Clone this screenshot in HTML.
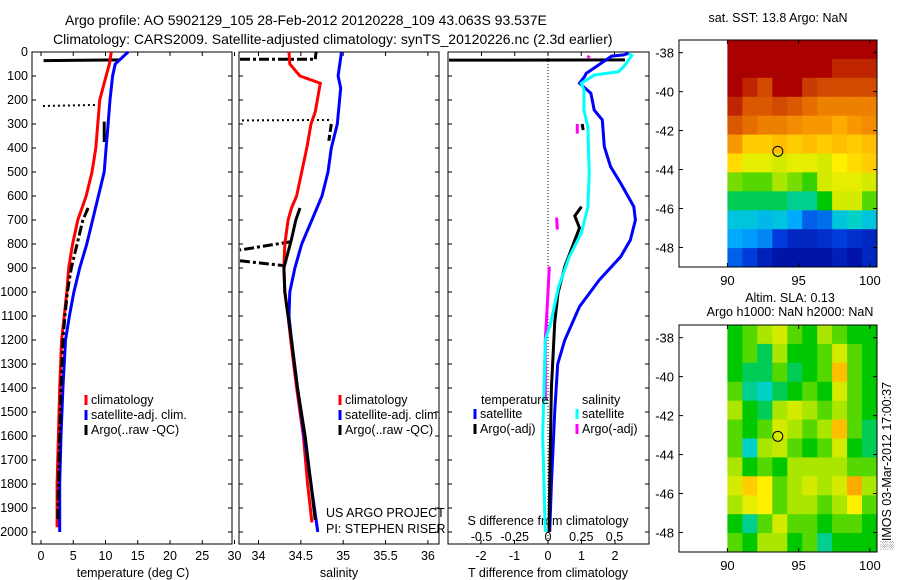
<!DOCTYPE html>
<html><head><meta charset="utf-8"><style>
html,body{margin:0;padding:0;background:#fff;}
svg{display:block;font-family:"Liberation Sans",sans-serif;}
text{font-size:12.5px;fill:#000;}
</style></head><body>
<svg id="s" width="900" height="580" viewBox="0 0 900 580" xmlns="http://www.w3.org/2000/svg">
<text x="65" y="25" style="font-size:14px">Argo profile: AO 5902129_105 28-Feb-2012 20120228_109 43.063S 93.537E</text>
<text x="53" y="44" style="font-size:14px">Climatology: CARS2009. Satellite-adjusted climatology: synTS_20120226.nc (2.3d earlier)</text>
<g id="g"></g>
</svg>
<script>
// ---------- data ----------
const depthTicks=[0,100,200,300,400,500,600,700,800,900,1000,1100,1200,1300,1400,1500,1600,1700,1800,1900,2000];
const tTicks=[0,5,10,15,20,25,30];
const sTicks=[34,34.5,35,35.5,36];
const dtTicks=[-2,-1,0,1,2];
const dsTicks=[-0.5,-0.25,0,0.25,0.5];
const dsTickLabels=["-0.5","-0.25","0","0.25","0.5"];

const tClimDepth=[0,50,100,200,300,400,500,600,700,800,900,1000,1100,1200,1400,1600,1800,1980];
const tClim=[10.9,10.6,10.1,9.1,8.8,8.5,7.9,7.0,5.7,4.9,4.3,4.0,3.6,3.2,2.9,2.7,2.5,2.5];
const tSatDepth=[0,50,100,200,300,400,500,600,700,800,900,1000,1100,1200,1400,1600,1800,2000];
const tSat=[13.5,11.5,11.1,10.7,10.4,10.1,9.8,8.9,8.0,7.1,6.0,5.1,4.4,3.8,3.4,3.1,2.9,2.9];
const tArgoDepth=[650,700,800,900,1000,1100,1200,1400,1600,1800,1950];
const tArgo=[7.3,6.5,5.6,4.7,4.1,3.7,3.4,3.1,2.9,2.7,2.6];

const sClimDepth=[0,50,100,130,250,300,400,500,600,650,700,800,900,1000,1100,1200,1400,1600,1800,1960];
const sClim=[34.36,34.37,34.49,34.73,34.67,34.62,34.57,34.51,34.45,34.39,34.35,34.31,34.30,34.31,34.35,34.38,34.45,34.53,34.58,34.63];
const sSatDepth=[0,100,150,300,400,500,600,700,800,900,1000,1100,1200,1400,1600,1800,2000];
const sSat=[34.98,34.94,34.97,34.93,34.86,34.82,34.75,34.63,34.51,34.43,34.37,34.36,34.39,34.46,34.54,34.62,34.70];
const sArgoDepth=[650,700,780,900,1000,1100,1200,1400,1600,1800,1950];
const sArgo=[34.49,34.44,34.39,34.30,34.31,34.35,34.39,34.46,34.55,34.62,34.67];

const dtSatDepth=[5,12,17,52,89,103,130,172,242,283,394,478,547,644,700,783,853,950,1061,1200,1300,1500,1800,2000];
const dtSat=[2.41,2.26,1.9,1.53,1.14,1.09,0.94,1.28,1.38,1.62,1.68,1.87,2.17,2.56,2.61,2.46,2.17,1.53,0.94,0.5,0.29,0.2,0.1,0.05];
const dtArgoDepth=[644,683,733,894,1004,1129,1400,1800,2000];
const dtArgo=[1.0,0.8,0.94,0.5,0.3,0.2,0.1,0.05,0.03];
const dsSatDepth=[5,15,61,82,96,130,158,242,313,505,644,755,853,978,1129,1200,1400,1600,1800,2000];
const dsSat=[0.61,0.63,0.57,0.53,0.35,0.25,0.27,0.27,0.30,0.31,0.30,0.25,0.16,0.08,0.02,-0.02,-0.03,-0.04,-0.03,-0.02];
const dsArgoDepth=[894,1000,1100,1200,1300,1450];
const dsArgo=[0.01,0.0,-0.01,-0.02,-0.02,-0.02];

const mapLatTicks=[-38,-40,-42,-44,-46,-48];
const mapLonTicks=[90,95,100];
const sstGrid=[
[1,1,1,1,1,1,1,1,1,1],
[1,1,1,1,1,1,1,.95,.95,.95],
[1,.95,.9,1,1,.92,.9,.9,.9,.9],
[.95,.88,.88,.9,.88,.85,.82,.82,.82,.82],
[.88,.85,.82,.82,.8,.78,.78,.75,.78,.8],
[.78,.7,.7,.72,.7,.72,.7,.72,.7,.72],
[.68,.62,.62,.6,.62,.62,.6,.65,.68,.7],
[.52,.5,.5,.55,.52,.48,.6,.62,.62,.6],
[.42,.42,.42,.42,.4,.4,.45,.6,.6,.5],
[.35,.35,.33,.35,.3,.2,.22,.35,.38,.35],
[.3,.28,.25,.15,.1,.1,.12,.15,.12,.1],
[.2,.15,.08,.05,.05,.05,.05,.08,.05,.1]];
const slaGrid=[
[.45,.5,.55,.6,.5,.45,.55,.5,.45,.45],
[.45,.5,.42,.55,.45,.45,.5,.6,.5,.45],
[.45,.42,.42,.5,.42,.45,.5,.72,.5,.45],
[.5,.4,.38,.42,.45,.5,.45,.6,.5,.45],
[.55,.45,.42,.55,.6,.55,.5,.55,.5,.45],
[.5,.45,.5,.6,.55,.5,.55,.72,.5,.42],
[.5,.38,.55,.58,.5,.45,.5,.6,.45,.42],
[.55,.45,.5,.45,.55,.55,.55,.55,.5,.5],
[.6,.7,.65,.5,.55,.6,.55,.6,.75,.55],
[.55,.62,.65,.5,.55,.55,.5,.55,.65,.5],
[.45,.4,.5,.6,.5,.5,.45,.5,.5,.45],
[.5,.45,.55,.55,.45,.5,.4,.45,.45,.45]];
const argoLon=93.537, argoLat=-43.063;

// ---------- helpers ----------
const NS="http://www.w3.org/2000/svg", G=document.getElementById('g');
function mk(tag,attrs,parent){const e=document.createElementNS(NS,tag);for(const k in attrs)e.setAttribute(k,attrs[k]);(parent||G).appendChild(e);return e;}
function tx(x,y,str,anchor,extra){const e=mk('text',Object.assign({x:x,y:y,'text-anchor':anchor||'start'},extra||{}));e.textContent=str;return e;}
const yD=d=>52+0.24*d;
const P1={x0:32,x1:232,fx:v=>41+6.45*v};
const P2={x0:239,x1:439,fx:v=>258.5+84.7*(v-34)};
const P3={x0:448,x1:649,fx:v=>548+33.5*v,fs:v=>548+133*v};
const TOP=52,BOT=544;

function line(xs,ds,fx,color,w,dash,name){
  const pts=xs.map((v,i)=>fx(v).toFixed(1)+','+yD(ds[i]).toFixed(1)).join(' ');
  const e=mk('polyline',{points:pts,fill:'none',stroke:color,'stroke-width':w,'stroke-dasharray':dash||'none'});
  
  
  return e;
}
function seg(x1,y1,x2,y2,color,w,dash,name){
  const e=mk('line',{x1:x1,y1:y1,x2:x2,y2:y2,stroke:color,'stroke-width':w,'stroke-dasharray':dash||'none'});
  
  
  return e;
}
function box(P,name){
  const r=mk('rect',{x:P.x0,y:TOP,width:P.x1-P.x0,height:BOT-TOP,fill:'none',stroke:'#000','stroke-width':1});
  
  
  depthTicks.forEach(d=>{seg(P.x0,yD(d),P.x0+4,yD(d),'#000',1,null,'y-tick');seg(P.x1-4,yD(d),P.x1,yD(d),'#000',1,null,'y-tick');});
}
// ---------- panel 1 ----------
box(P1,'temperature-panel');
depthTicks.forEach(d=>{const t=tx(28,yD(d)+4,String(d),'end');});
tTicks.forEach(v=>{const x=P1.fx(v);seg(x,TOP,x,TOP+4,'#000',1,null,'x-tick');seg(x,BOT-4,x,BOT,'#000',1,null,'x-tick');const t=tx(x,560,String(v),'middle');});
{const t=tx(133,577,'temperature (deg C)','middle');}
seg(P1.fx(0.4),yD(36),P1.fx(12.2),yD(33),'#000',3,null,'argo-raw-temperature-surface');
seg(P1.fx(0.3),yD(225),P1.fx(9.5),yD(220),'#000',2,'2,3','argo-qc-temperature-dotted');
seg(P1.fx(9.8),yD(290),P1.fx(9.8),yD(375),'#000',3,null,'argo-temperature-segment');
line(tClim,tClimDepth,P1.fx,'#f00',3,null,'temperature-climatology-line');
line(tSat,tSatDepth,P1.fx,'#00f',3,null,'temperature-satellite-line');
line(tArgo,tArgoDepth,P1.fx,'#000',3,'10,3,3,3','temperature-argo-line');
function legend(x,y,items,pname){items.forEach((it,i)=>{seg(x,y+i*15-9,x,y+i*15+1,it[0],3,null,pname+'-legend-swatch');const t=tx(x+5,y+i*15,it[1]);});}
legend(86,404,[['#f00','climatology'],['#00f','satellite-adj. clim.'],['#000','Argo(..raw -QC)']],'temperature');
// ---------- panel 2 ----------
box(P2,'salinity-panel');
sTicks.forEach(v=>{const x=P2.fx(v);seg(x,TOP,x,TOP+4,'#000',1,null,'x-tick');seg(x,BOT-4,x,BOT,'#000',1,null,'x-tick');const t=tx(x,560,String(v),'middle');});
{const t=tx(339,577,'salinity','middle');}
seg(240,yD(30),P2.fx(34.67),yD(30),'#000',3,'10,3,3,3','argo-salinity-surface');
seg(P2.fx(34.67),yD(30),P2.fx(34.68),yD(0),'#000',3,null,'argo-salinity-surface-vert');
seg(242,yD(285),P2.fx(34.87),yD(283),'#000',2,'2,3','argo-qc-salinity-dotted');
seg(P2.fx(34.86),yD(300),P2.fx(34.83),yD(370),'#000',3,'8,3','argo-salinity-segment');
seg(P2.fx(34.39),yD(790),240,yD(825),'#000',3,'10,3,3,3','argo-salinity-spike-1');
seg(240,yD(870),P2.fx(34.30),yD(890),'#000',3,'10,3,3,3','argo-salinity-spike-2');
line(sClim,sClimDepth,P2.fx,'#f00',3,null,'salinity-climatology-line');
line(sSat,sSatDepth,P2.fx,'#00f',3,null,'salinity-satellite-line');
line(sArgo,sArgoDepth,P2.fx,'#000',3,null,'salinity-argo-line');
legend(340,404,[['#f00','climatology'],['#00f','satellite-adj. clim.'],['#000','Argo(..raw -QC)']],'salinity');
{const t=tx(326,517,'US ARGO PROJECT');}
{const t=tx(326,533,'PI: STEPHEN RISER');}
// ---------- panel 3 ----------
box(P3,'difference-panel');
seg(548,TOP,548,BOT,'#000',1,'1,2','zero-line');
dtTicks.forEach(v=>{const x=P3.fx(v);seg(x,BOT-4,x,BOT,'#000',1,null,'x-tick');const t=tx(x,560,String(v),'middle');});
dsTicks.forEach((v,i)=>{const x=P3.fs(v);seg(x,TOP,x,TOP+4,'#000',1,null,'x-tick-top');const t=tx(x,541,dsTickLabels[i],'middle');});
{const t=tx(548,525,'S difference from climatology','middle');}
{const t=tx(548,577,'T difference from climatology','middle');}
seg(449,yD(34),P3.fx(2.3),yD(33),'#000',3,null,'argo-tdiff-surface');
seg(P3.fx(1.02),yD(300),P3.fx(1.05),yD(325),'#000',3,null,'argo-tdiff-segment');
seg(P3.fs(0.31),yD(15),P3.fs(0.30),yD(25),'#f0f',3,null,'argo-sdiff-seg1');
seg(P3.fs(0.22),yD(300),P3.fs(0.22),yD(340),'#f0f',3,null,'argo-sdiff-seg2');
seg(P3.fs(0.065),yD(690),P3.fs(0.07),yD(740),'#f0f',3,null,'argo-sdiff-seg3');
line(dtSat,dtSatDepth,P3.fx,'#00f',3,null,'tdiff-satellite-line');
line(dtArgo,dtArgoDepth,P3.fx,'#000',3,null,'tdiff-argo-line');
line(dsArgo,dsArgoDepth,P3.fs,'#f0f',3,null,'sdiff-argo-line');
line(dsSat,dsSatDepth,P3.fs,'#0ff',3,null,'sdiff-satellite-line');
{const t=tx(481,404,'temperature');}
{const t=tx(582,404,'salinity');}
legend(475,418,[['#00f','satellite'],['#000','Argo(-adj)']],'tdiff');
legend(577,418,[['#0ff','satellite'],['#f0f','Argo(-adj)']],'sdiff');
// ---------- maps ----------
const CMAP=[[0,[0,0,140]],[0.15,[0,60,220]],[0.3,[0,170,255]],[0.38,[0,210,200]],[0.45,[0,200,0]],[0.55,[170,230,0]],[0.65,[255,240,0]],[0.75,[255,170,0]],[0.85,[230,110,0]],[1,[170,0,0]]];
function cmap(v){v=Math.max(0,Math.min(1,v));for(let i=1;i<CMAP.length;i++){if(v<=CMAP[i][0]){const a=CMAP[i-1],b=CMAP[i],t=(v-a[0])/(b[0]-a[0]);return 'rgb('+a[1].map((c,k)=>Math.round(c+(b[1][k]-c)*t)).join(',')+')';}}return 'rgb(170,0,0)';}
function map(top,bot,grid,name){
  const x0=679,x1=877,lon0=86.6,lon1=100.5,lat0=-37.35,lat1=-49.0;
  const fx=l=>x0+(l-lon0)/(lon1-lon0)*(x1-x0), fy=l=>top+(l-lat0)/(lat1-lat0)*(bot-top);
  const rows=grid.length, cols=grid[0].length, cx0=fx(90), cw=(x1-cx0)/cols, ch=(bot-top)/rows;
  grid.forEach((row,i)=>row.forEach((v,j)=>{const c=mk('rect',{x:(cx0+j*cw).toFixed(1),y:(top+i*ch).toFixed(1),width:(cw+0.5).toFixed(1),height:(ch+0.5).toFixed(1),fill:cmap(v)});}));
  const r=mk('rect',{x:x0,y:top,width:x1-x0,height:bot-top,fill:'none',stroke:'#000','stroke-width':1});
  
  mapLatTicks.forEach(l=>{const y=fy(l);seg(x0,y,x0+4,y,'#000',1,null,'lat-tick');seg(x1-4,y,x1,y,'#000',1,null,'lat-tick');const t=tx(674,y+5,String(l),'end',{style:'font-size:13px'});});
  mapLonTicks.forEach(l=>{const x=fx(l);seg(x,top,x,top+4,'#000',1,null,'lon-tick');seg(x,bot-4,x,bot,'#000',1,null,'lon-tick');const t=tx(x,bot+18,String(l),'middle',{style:'font-size:13px'});});
  const c=mk('circle',{cx:fx(argoLon),cy:fy(argoLat),r:5,fill:'none',stroke:'#000','stroke-width':1});
  
}
map(40,267,sstGrid,'sst-map');
map(325,552,slaGrid,'sla-map');
{const t=tx(778,22,'sat. SST: 13.8 Argo: NaN','middle');}
{const t=tx(790,302,'Altim. SLA: 0.13','middle');}
{const t=tx(790,316,'Argo h1000: NaN h2000: NaN','middle');}
{const t=tx(0,0,'\u2591IMOS 03-Mar-2012 17:00:37','middle',{transform:'translate(891,466) rotate(-90)'});}
</script>
</body></html>
